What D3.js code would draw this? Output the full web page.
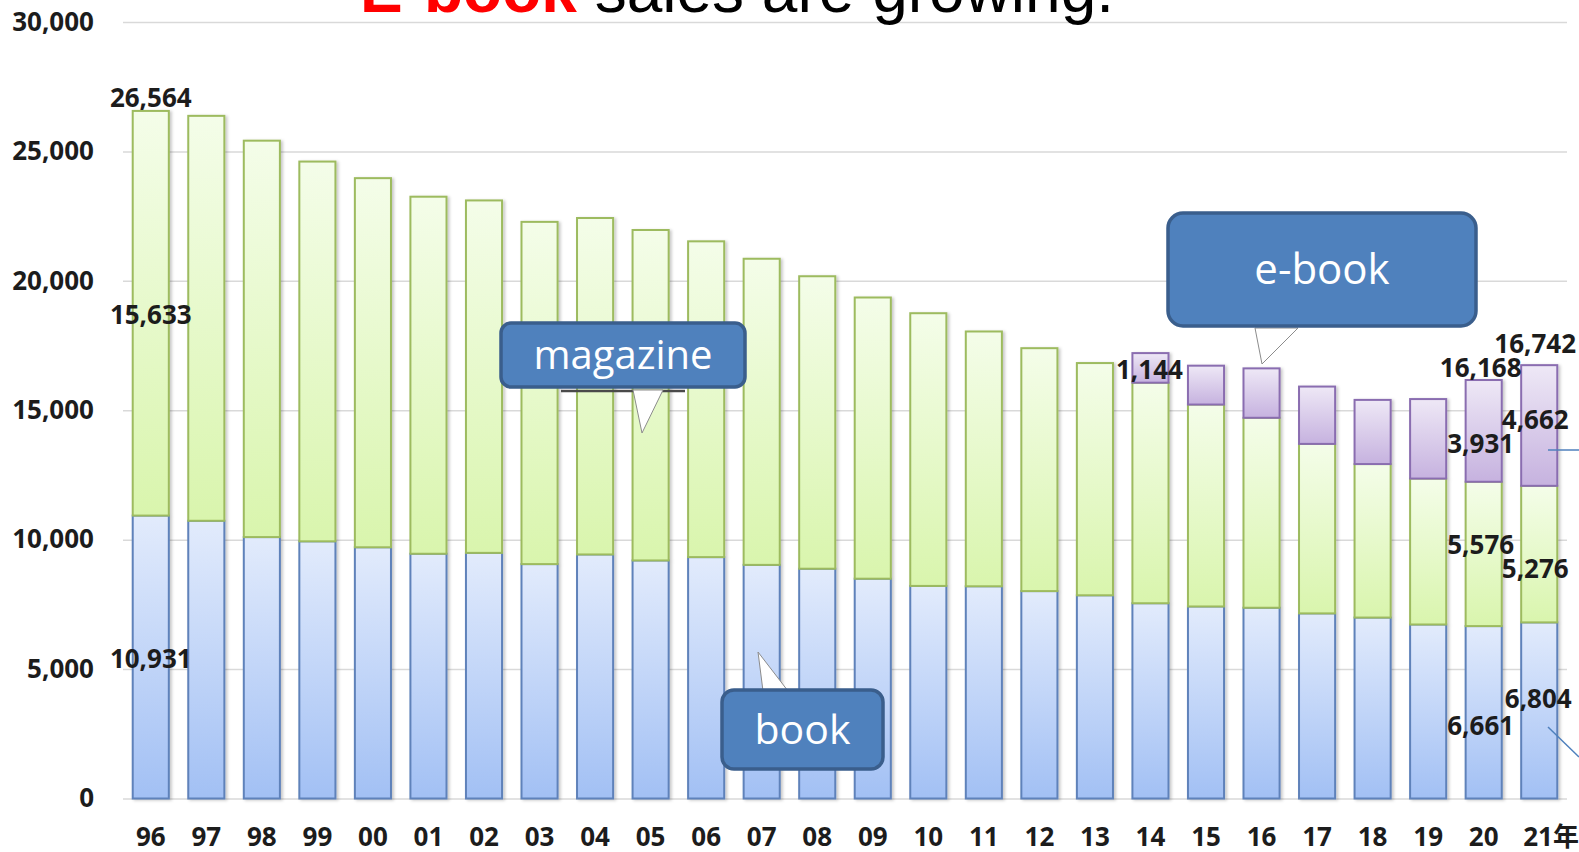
<!DOCTYPE html>
<html>
<head>
<meta charset="utf-8">
<script src="https://cdn.jsdelivr.net/npm/d3@7"></script>
<style>
body { margin: 0; background: #fff; }
svg { display: block; }
</style>
</head>
<body>
<div id="content"></div>
<script>
// sales by year (100 million yen): book, magazine, e-book
var years = ["96","97","98","99","00","01","02","03","04","05","06","07","08",
             "09","10","11","12","13","14","15","16","17","18","19","20","21"];
var yearLabels = ["96","97","98","99","00","01","02","03","04","05","06","07","08",
                  "09","10","11","12","13","14","15","16","17","18","19","20","21年"];
var book = [10931,10730,10100,9936,9706,9456,9490,9056,9429,9197,9326,9026,8878,
            8492,8213,8199,8013,7851,7544,7419,7370,7152,6991,6723,6661,6804];
var magazine = [15633,15644,15315,14672,14261,13794,13616,13222,12998,12767,12200,11827,11299,
                10864,10536,9844,9385,8972,8520,7801,7339,6548,5930,5637,5576,5276];
var ebook = [0,0,0,0,0,0,0,0,0,0,0,0,0,
             0,0,0,0,0,1144,1502,1909,2215,2479,3072,3931,4662];
var yTicks = [0,5000,10000,15000,20000,25000,30000];

// which values get a number written next to them
var labelYears = ["96","96","96","14","20","20","20","20","21","21","21","21"];
var labelKeys  = ["total","magazine","book","ebook","total","ebook","magazine","book","total","ebook","magazine","book"];

var w = 1579,
    h = 852,
    left = 123,
    right = 1567;

var svg = d3.select("#content")
    .append("svg")
    .attr("width", w)
    .attr("height", h);

var x = d3.scaleBand()
    .domain(years)
    .range([left, right])
    .paddingInner(0.35)
    .paddingOuter(0.175);

var y = d3.scaleLinear()
    .domain([0, 30000])
    .range([798.5, 22]);

var rows = years.map(function(yr, i) {
    return {year: yr, book: book[i], magazine: magazine[i], ebook: ebook[i]};
});
var keys = ["book", "magazine", "ebook"];
var stacked = d3.stack().keys(keys)(rows);

var colors = {
    book:     {top: "#e2ebfc", bottom: "#a2c0f4", stroke: "#5f82ba"},
    magazine: {top: "#f4fde9", bottom: "#d9f5ad", stroke: "#9dbb5f"},
    ebook:    {top: "#eee8f6", bottom: "#c6b2df", stroke: "#8a6db0"}
};

var defs = svg.append("defs");
keys.forEach(function(k) {
    var g = defs.append("linearGradient")
        .attr("id", "grad-" + k)
        .attr("x1", 0).attr("y1", 0).attr("x2", 0).attr("y2", 1);
    g.append("stop").attr("offset", "0%").attr("stop-color", colors[k].top);
    g.append("stop").attr("offset", "100%").attr("stop-color", colors[k].bottom);
});
defs.append("filter")
    .attr("id", "shadow")
    .attr("x", "-20%").attr("y", "-5%").attr("width", "150%").attr("height", "115%")
    .append("feDropShadow")
    .attr("dx", 2).attr("dy", 1)
    .attr("stdDeviation", 1.5)
    .attr("flood-color", "#000")
    .attr("flood-opacity", 0.22);

// y axis + gridlines
var yAxis = svg.append("g")
    .attr("transform", "translate(" + left + ",0)")
    .call(d3.axisLeft(y).tickValues(yTicks).tickSize(-(right - left)).tickPadding(29).tickFormat(d3.format(",")));
yAxis.select(".domain").remove();
yAxis.selectAll(".tick line").attr("stroke", "#d9d9d9").attr("stroke-width", 1.5);
yAxis.selectAll(".tick text")
    .attr("fill", "#1c1c1c")
    .style("font", "bold 26px 'Noto Sans', sans-serif");

// x axis
var xAxis = svg.append("g")
    .attr("transform", "translate(0," + y(0) + ")")
    .call(d3.axisBottom(x).tickSize(0).tickPadding(29).tickFormat(function(d, i) { return yearLabels[i]; }));
xAxis.select(".domain").remove();
xAxis.selectAll(".tick text")
    .attr("fill", "#1c1c1c")
    .style("font", "bold 26px 'Noto Sans', 'Noto Sans CJK JP', sans-serif");
// last label "21年": keep "21" over the bar, 年 hangs to the right
xAxis.selectAll(".tick text").filter(function(d, i) { return i == years.length - 1; })
    .attr("text-anchor", "start")
    .attr("x", -16);

// bars
var bars = svg.append("g").attr("filter", "url(#shadow)");
stacked.forEach(function(layer) {
    bars.append("g")
        .selectAll("rect")
        .data(layer.filter(function(d) { return d[1] - d[0] > 0; }))
        .enter()
        .append("rect")
        .attr("x", function(d) { return x(d.data.year); })
        .attr("y", function(d) { return y(d[1]); })
        .attr("width", x.bandwidth())
        .attr("height", function(d) { return y(d[0]) - y(d[1]); })
        .attr("fill", "url(#grad-" + layer.key + ")")
        .attr("stroke", colors[layer.key].stroke)
        .attr("stroke-width", 2);
});

// value labels
var nudge = {
    "96 total": [0, -13], "96 magazine": [0, 2], "96 book": [0, 2],
    "14 ebook": [-1, 2],
    "20 total": [-3, -12], "20 ebook": [-3, 13], "20 magazine": [-3, -9], "20 book": [-3, 14],
    "21 total": [-4, -21], "21 ebook": [-4, -6], "21 magazine": [-4, 15], "21 book": [-1, -12]
};

function labelPos(yr, key) {
    var i = years.indexOf(yr);
    var seg = {
        book: [0, book[i]],
        magazine: [book[i], book[i] + magazine[i]],
        ebook: [book[i] + magazine[i], book[i] + magazine[i] + ebook[i]]
    };
    var total = book[i] + magazine[i] + ebook[i];
    var cx = x(yr) + x.bandwidth() / 2;
    if (key == "total") return {x: cx, y: y(total), v: total};
    return {x: cx, y: (y(seg[key][0]) + y(seg[key][1])) / 2, v: seg[key][1] - seg[key][0]};
}

svg.append("g")
    .selectAll("text")
    .data(labelYears.map(function(yr, i) {
        var p = labelPos(yr, labelKeys[i]);
        var n = nudge[yr + " " + labelKeys[i]];
        return {x: p.x + n[0], y: p.y + n[1], v: p.v};
    }))
    .enter()
    .append("text")
    .attr("x", function(d) { return d.x; })
    .attr("y", function(d) { return d.y; })
    .attr("dy", "0.35em")
    .attr("text-anchor", "middle")
    .attr("fill", "#1c1c1c")
    .style("font", "bold 26px 'Noto Sans', sans-serif")
    .text(function(d) { return d3.format(",")(d.v); });

// callouts
var callouts = [
    {text: "magazine", box: [501, 323, 244, 64], rx: 10, tip: [[633, 390], [642, 433], [663, 390]], size: 40},
    {text: "book", box: [722, 690, 161, 79], rx: 12, tip: [[763, 691], [758, 652], [788, 691]], size: 41},
    {text: "e-book", box: [1168, 213, 308, 113], rx: 15, tip: [[1255, 328], [1262, 364], [1298, 328]], size: 42}
];

// shadow line under the magazine box
svg.append("line")
    .attr("x1", 561).attr("x2", 685)
    .attr("y1", 391).attr("y2", 391)
    .attr("stroke", "#4a4a4a")
    .attr("stroke-width", 2.5);

callouts.forEach(function(c) {
    svg.append("path")
        .attr("d", "M" + c.tip.join("L") + "Z")
        .attr("fill", "#fff")
        .attr("stroke", "#8c8c8c")
        .attr("stroke-width", 1);
    svg.append("rect")
        .attr("x", c.box[0]).attr("y", c.box[1])
        .attr("width", c.box[2]).attr("height", c.box[3])
        .attr("rx", c.rx)
        .attr("fill", "#4f81bd")
        .attr("stroke", "#3a5e8c")
        .attr("stroke-width", 3.5);
    svg.append("text")
        .attr("x", c.box[0] + c.box[2] / 2)
        .attr("y", c.box[1] + c.box[3] / 2)
        .attr("dy", "0.35em")
        .attr("text-anchor", "middle")
        .attr("fill", "#fff")
        .style("font", c.size + "px 'Open Sans', sans-serif")
        .text(c.text);
});

// connector lines of callouts off the right edge
svg.append("line")
    .attr("x1", 1548).attr("y1", 450).attr("x2", 1579).attr("y2", 450)
    .attr("stroke", "#4f81bd").attr("stroke-width", 1.5);
svg.append("line")
    .attr("x1", 1548).attr("y1", 727).attr("x2", 1579).attr("y2", 757)
    .attr("stroke", "#4f81bd").attr("stroke-width", 1.5);

// title, cut off by the top edge
var title = svg.append("text")
    .attr("x", 360)
    .attr("y", 12)
    .style("font", "64px 'Liberation Sans', Arial, sans-serif");
title.append("tspan").attr("fill", "#ff0000").attr("font-weight", "bold").text("E-book");
title.append("tspan").attr("fill", "#000").text(" sales are growing.");
</script>
</body>
</html>
